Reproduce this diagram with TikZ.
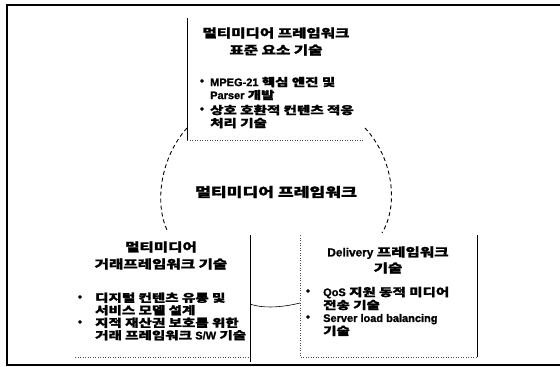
\documentclass[tikz,border=0pt]{standalone}
\usepackage{fontspec}
\setmainfont{Noto Sans CJK KR}[FakeStretch=1.32, BoldFeatures={FakeBold=1.5}]
\newfontfamily\la{Liberation Sans}[BoldFeatures={FakeBold=1.2}]
\newcommand{\lat}[1]{{\la\bfseries #1}}
\begin{document}
\begin{tikzpicture}[x=1pt,y=-1pt,
  txt/.style={font=\fontsize{11}{13}\selectfont\bfseries, inner sep=0pt, align=left, anchor=west},
  ttl/.style={font=\fontsize{11.8}{17}\selectfont\bfseries, inner sep=0pt, align=center},
  bul/.style={font=\la\fontsize{11}{11}\selectfont\bfseries, inner sep=0pt},
  frameline/.style={line width=1.3pt},
  boxline/.style={line width=0.6pt},
  dotline/.style={line width=0.6pt, dash pattern=on 1pt off 1.5pt, black!70},
  arcline/.style={line width=0.9pt, dash pattern=on 4pt off 3pt}]
\useasboundingbox (0,0) rectangle (560,367);
% outer frame
\draw[frameline] (560,5) -- (7,5) -- (7,365) -- (560,365);
% top box
\draw[boxline] (187,18) -- (187,140);
\draw[dotline] (187,140) -- (363,140);
\node[ttl] (toptitle) at (276,41.5) {멀티미디어 프레임워크\\표준 요소 기술};
\node[bul] (tb1) at (202,82) {•};
\node[txt] (tt1) at (210,88.5) {\lat{MPEG-21} 핵심 엔진 및\\\lat{Parser} 개발};
\node[bul] (tb2) at (202,110) {•};
\node[txt] (tt2) at (210,116.5) {상호 호환적 컨텐츠 적응\\처리 기술};
% circle arcs
\draw[arcline] (187,128) .. controls (160,158) and (154,205) .. (168,232);
\draw[arcline] (365,128) .. controls (393,158) and (399,205) .. (382,233);
\node[font=\fontsize{13}{14}\selectfont\bfseries, inner sep=0pt] (center) at (276,192) {멀티미디어 프레임워크};
% left box
\draw[boxline] (250,235) -- (250,362);
\draw[dotline] (75,357) -- (250,357);
\node[ttl] (lefttitle) at (161,255.5) {멀티미디어\\거래프레임워크 기술};
\node[bul] (lb1) at (80,298) {•};
\node[txt, font=\fontsize{11}{12.5}\selectfont\bfseries] (lt1) at (95,304) {디지털 컨텐츠 유통 및\\서비스 모델 설계};
\node[bul] (lb2) at (80,323) {•};
\node[txt, font=\fontsize{11}{12.5}\selectfont\bfseries] (lt2) at (95,329) {지적 재산권 보호를 위한\\거래 프레임워크 \lat{S/W} 기술};
% right box
\draw[dotline] (300,235) -- (300,357) -- (477,357);
\draw[boxline] (477,235) -- (477,357);
\node[ttl, font=\fontsize{11.8}{16}\selectfont\bfseries] (righttitle) at (388,260) {\lat{Delivery} 프레임워크\\기술};
\node[bul] (rb1) at (308,292) {•};
\node[txt] (rt1) at (323,298.5) {\lat{QoS} 지원 동적 미디어\\전송 기술};
\node[bul] (rb2) at (308,318) {•};
\node[txt] (rt2) at (323,325) {\lat{Server load balancing}\\기술};
% connector between lower boxes
\coordinate (lbox) at (250,304);
\coordinate (rbox) at (300,303);
\draw[boxline] (lbox) .. controls +(14,5) and +(-16,4) .. (rbox);
\end{tikzpicture}
\end{document}
